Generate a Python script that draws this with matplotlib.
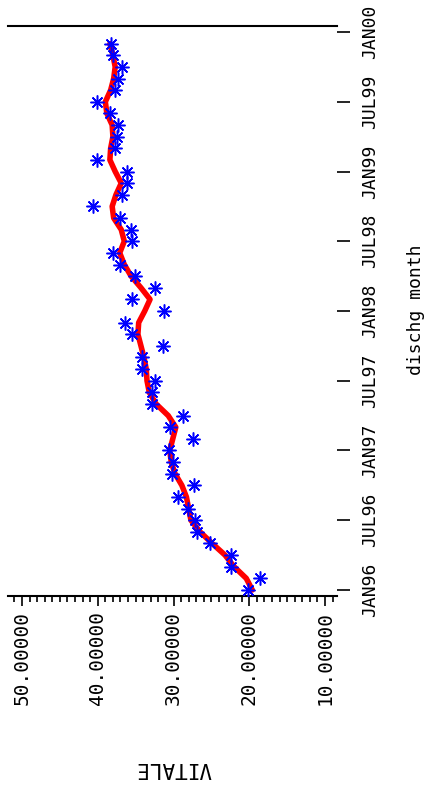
import numpy as np
import matplotlib.pyplot as plt
from matplotlib.ticker import MultipleLocator

# discharge month index: 0 = JAN96 ... 47 = DEC99
month_idx = np.arange(48)

# monthly VITALE values (blue stars)
vitale = [20.2, 18.6, 22.4, 22.4, 25.2, 26.9, 27.2, 28.1, 29.4, 27.3,
          30.2, 30.1, 30.6, 27.4, 30.5, 28.8, 32.8, 32.8, 32.4, 34.2,
          34.2, 31.4, 35.5, 36.4, 31.3, 35.5, 32.4, 35.1, 37.1, 38.0,
          35.5, 35.6, 37.1, 40.6, 36.8, 36.1, 36.1, 40.1, 37.7, 37.5,
          37.3, 38.4, 40.1, 37.7, 37.3, 36.8, 38.0, 38.3]

# smoothed trend (red line)
smooth = [19.6, 20.4, 22.0, 23.2, 24.9, 26.5, 27.7, 28.0, 28.3, 28.9,
          29.8, 30.3, 30.5, 30.1, 29.7, 30.7, 32.3, 33.2, 33.5, 33.6,
          33.9, 34.3, 34.7, 34.6, 33.8, 33.1, 34.3, 35.6, 36.5, 37.1,
          36.5, 36.9, 37.9, 38.1, 37.6, 36.9, 37.7, 38.4, 38.3, 38.0,
          38.1, 38.8, 39.0, 38.3, 37.9, 37.7, 38.0, 38.4]

month_ticks = [0, 6, 12, 18, 24, 30, 36, 42, 48]
month_labels = ["JAN96", "JUL96", "JAN97", "JUL97", "JAN98",
                "JUL98", "JAN99", "JUL99", "JAN00"]
value_ticks = [50, 40, 30, 20, 10]
value_labels = ["50.00000", "40.00000", "30.00000", "20.00000", "10.00000"]

mono = "DejaVu Sans Mono"

fig = plt.figure(figsize=(4.33, 7.94), dpi=100)
ax = fig.add_axes([8 / 433, 1 - 596 / 794, 329 / 433, 570 / 794])

ax.plot(smooth, month_idx, color="#ff0000", lw=4,
        solid_joinstyle="round", solid_capstyle="round", zorder=2)
ax.plot(vitale, month_idx, ls="none", marker=(8, 2, 0), ms=10,
        mew=1.1, color="#0000ff", zorder=3)

ax.set_xlim(51.85, 8.42)
ax.set_ylim(-0.52, 48.52)

# value axis along the bottom
ax.set_xticks(value_ticks)
ax.set_xticklabels(value_labels, rotation=90, fontfamily=mono, fontsize=14)
ax.xaxis.set_minor_locator(MultipleLocator(1))
ax.tick_params(axis="x", which="major", direction="out", length=7,
               width=1.2, pad=4)
ax.tick_params(axis="x", which="minor", direction="out", length=4.5,
               width=1.2)

# month axis on the right, ticks only
ax.yaxis.tick_right()
ax.set_yticks(month_ticks)
ax.set_yticklabels(month_labels, rotation=90, va="center",
                   fontfamily=mono, fontsize=13)
ax.tick_params(axis="y", which="major", direction="out", length=9.5,
               width=1.2, pad=8)

for side in ("left", "right"):
    ax.spines[side].set_visible(False)
for side in ("top", "bottom"):
    ax.spines[side].set_linewidth(1.5)

fig.text(416 / 433, 1 - 310 / 794, "dischg month", rotation=90,
         ha="center", va="center", fontfamily=mono, fontsize=13)
fig.text(174 / 433, 1 - 768 / 794, "VITALE", rotation=180,
         ha="center", va="center", fontfamily=mono, fontsize=15)

fig.savefig("out.png", dpi=100)
